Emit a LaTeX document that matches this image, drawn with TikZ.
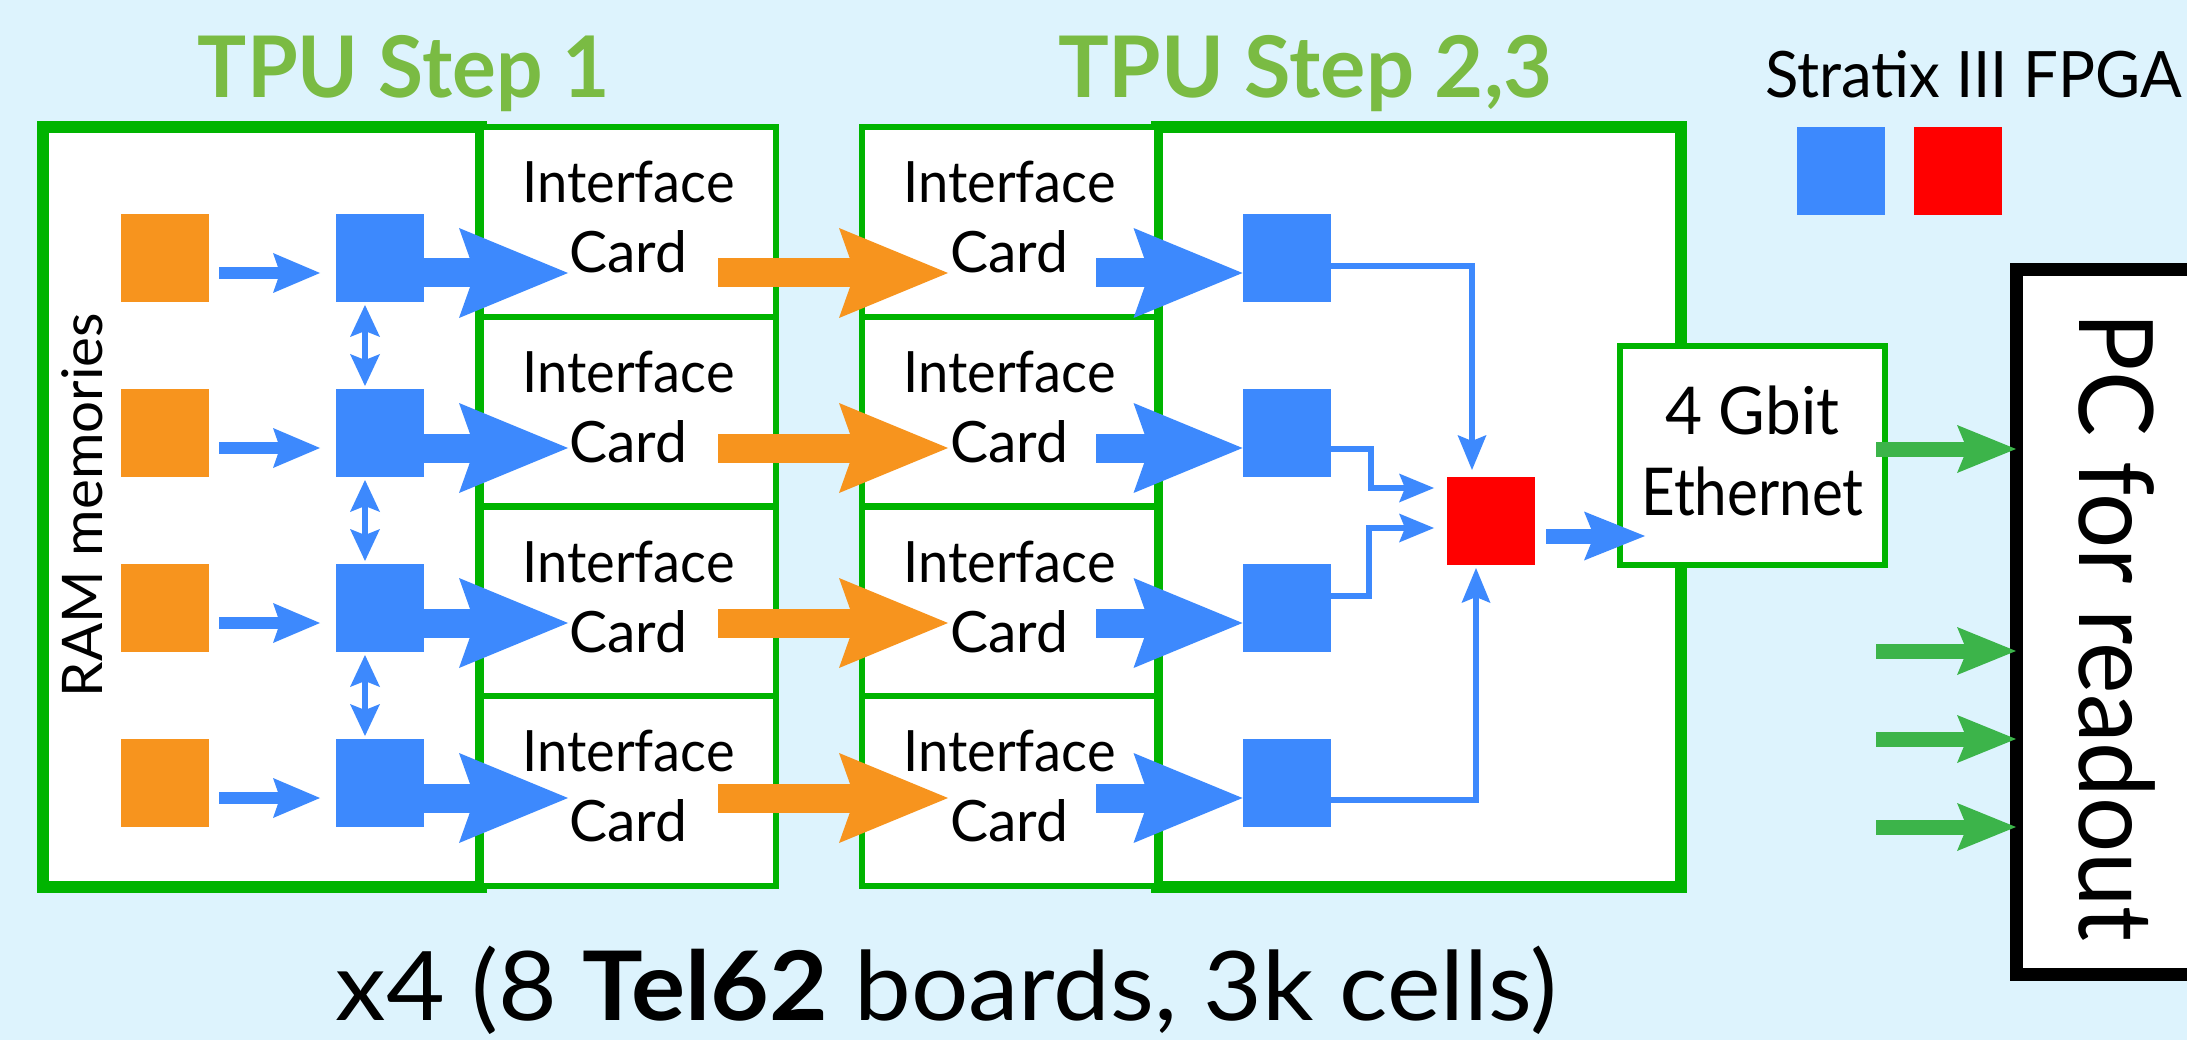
\documentclass[tikz,border=0pt]{standalone}
\usepackage{fontspec}
\setmainfont{Lato}
\usepackage{graphicx}
\usetikzlibrary{arrows.meta,calc}
\definecolor{bg}{RGB}{221,243,253}
\definecolor{fblue}{RGB}{61,137,253}
\definecolor{fred}{RGB}{255,0,0}
\definecolor{ramor}{RGB}{247,148,30}
\definecolor{bgreen}{RGB}{0,180,0}
\definecolor{tgreen}{RGB}{122,187,67}
\definecolor{agreen}{RGB}{60,180,74}
\newcommand\fitw[2]{\resizebox{#1}{\height}{#2}}
\tikzset{
  tipSmall/.tip={Stealth[length=47pt,width=40pt,inset=7pt,line width=0pt]},
  tipBig/.tip={Stealth[length=109pt,width=90pt,inset=16pt,line width=0pt]},
  tipMed/.tip={Stealth[length=61pt,width=49pt,inset=10pt,line width=0pt]},
  tipThin/.tip={Stealth[length=35pt,width=29pt,inset=6pt,line width=0pt]},
  tipDbl/.tip={Stealth[length=32pt,width=30pt,inset=6pt,line width=0pt]},
  tipGreen/.tip={Stealth[length=59pt,width=48pt,inset=10pt,line width=0pt]},
}
\begin{document}
\begin{tikzpicture}[x=1pt,y=-1pt,
  sq/.style={minimum width=88pt,minimum height=88pt,inner sep=0pt,outer sep=0pt},
  orangesq/.style={sq,fill=ramor},
  bluesq/.style={sq,fill=fblue},
  redsq/.style={sq,fill=fred},
  bigbox/.style={draw=bgreen,line width=12pt,fill=white,inner sep=0pt,outer sep=0pt},
  card/.style={draw=bgreen,line width=6pt,fill=white,minimum width=295pt,minimum height=189.75pt,inner sep=0pt,outer sep=0pt,align=center,font=\fontsize{57}{70}\selectfont},
  ethbox/.style={draw=bgreen,line width=6pt,fill=white,minimum width=265pt,minimum height=219pt,inner sep=0pt,outer sep=0pt,align=center,font=\fontsize{66}{81}\selectfont},
  pcbox/.style={draw=black,line width=13pt,fill=white,minimum width=179pt,minimum height=704pt,inner sep=0pt,outer sep=0pt},
  txt/.style={inner sep=0pt,outer sep=0pt,anchor=base},
  title/.style={txt,text=tgreen,font=\fontsize{85}{85}\selectfont\bfseries},
  smallarr/.style={draw=fblue,line width=12pt,-tipSmall},
  bigarr/.style={draw=fblue,line width=29pt,-tipBig},
  orarr/.style={draw=ramor,line width=29pt,-tipBig},
  medarr/.style={draw=fblue,line width=15pt,-tipMed},
  thinarr/.style={draw=fblue,line width=6.5pt,-tipThin},
  dblarr/.style={draw=fblue,line width=6pt,tipDbl-tipDbl},
  greenarr/.style={draw=agreen,line width=15pt,-tipGreen},
]
\useasboundingbox (0,0) rectangle (2187,1040);
\fill[bg] (0,0) rectangle (2187,1040);

% titles and legend
\node[title] (t1) at (404,98) {\fitw{412pt}{TPU Step 1}};
\node[title] (t2) at (1305.5,98) {\fitw{495pt}{TPU Step 2,3}};
\node[txt,font=\fontsize{64}{64}\selectfont] (leg) at (1973.5,98) {\fitw{417pt}{Stratix III FPGA}};
\node[bluesq] (lb) at (1841,171) {};
\node[redsq] (lr) at (1958,171) {};

% big boxes
\node[bigbox,minimum width=438pt,minimum height=760pt] (tpu1) at (262,507) {};
\node[bigbox,minimum width=524pt,minimum height=760pt] (tpu23) at (1419,507) {};

% interface cards
\foreach \k/\y in {1/221.9,2/411.6,3/601.4,4/791.1} {
  \node[card] (ia\k) at (628.5,\y) {\fitw{212pt}{Interface}\\\fitw{118pt}{Card}\rule[-10pt]{0pt}{10pt}};
  \node[card] (ib\k) at (1009.5,\y) {\fitw{212pt}{Interface}\\\fitw{118pt}{Card}\rule[-10pt]{0pt}{10pt}};
}

% ethernet and PC
\node[ethbox] (eth) at (1752.5,455.5) {\fitw{174pt}{4 Gbit}\\\fitw{222pt}{Ethernet}\rule[-9pt]{0pt}{9pt}};
\node[pcbox] (pc) at (2105.5,622) {};
\node[txt,rotate=-90,font=\fontsize{103}{103}\selectfont] (pct) at (2079,627) {\fitw{629pt}{PC for readout}};

% RAM label
\node[txt,rotate=90,font=\fontsize{56}{56}\selectfont] (ramt) at (102,505) {\fitw{384pt}{RAM memories}};

% squares
\foreach \k/\y in {1/258,2/433,3/608,4/783} {
  \node[orangesq] (o\k) at (165,\y) {};
  \node[bluesq] (b\k) at (380,\y) {};
  \node[bluesq] (c\k) at (1286.5,\y) {};
}
\node[redsq] (r) at (1491,521) {};

% row arrows
\foreach \k in {1,2,3,4} {
  \draw[smallarr] ($(o\k.east)+(10,15)$) -- ($(b\k.west)+(-16,15)$);
  \draw[bigarr] ($(b\k.east)+(0,15)$) -- ($(ia\k.west |- b\k.east)+(87,15)$);
  \draw[orarr] ($(ia\k.east |- b\k.east)+(-58,15)$) -- ($(ib\k.west |- b\k.east)+(86,15)$);
  \draw[bigarr] ($(ib\k.east |- c\k.west)+(-61,15)$) -- ($(c\k.west)+(0,15)$);
}

% vertical double arrows
\foreach \k/\n in {1/2,2/3,3/4} {
  \draw[dblarr] ($(b\k.south)+(-15,3)$) -- ($(b\n.north)+(-15,-3)$);
}

% connectors to the red FPGA
\draw[thinarr] ($(c1.east)+(0,8)$) -| ($(r.north)+(-19,-7)$);
\draw[thinarr] ($(c2.east)+(0,16)$) -| ($(r.west)+(-76,-33)$) -- ($(r.west)+(-13,-33)$);
\draw[thinarr] ($(c3.east)+(0,-12)$) -| ($(r.west)+(-78,7)$) -- ($(r.west)+(-13,7)$);
\draw[thinarr] ($(c4.east)+(0,17)$) -| ($(r.south)+(-15,3)$);

% red to ethernet
\draw[medarr] ($(r.east)+(11,15)$) -- ($(eth.west |- r.east)+(25,15)$);

% green arrows to PC
\coordinate (g2) at (1876,651);
\coordinate (g3) at (1876,739);
\coordinate (g4) at (1876,827);
\draw[greenarr] ($(eth.east)+(-9,-6.5)$) -- ($(pc.west |- eth.east)+(0,-6.5)$);
\draw[greenarr] (g2) -- (pc.west |- g2);
\draw[greenarr] (g3) -- (pc.west |- g3);
\draw[greenarr] (g4) -- (pc.west |- g4);

% caption
\node[txt,font=\fontsize{96}{96}\selectfont] (cap) at (946.5,1020) {\fitw{1221pt}{x4 (8 \textbf{Tel62} boards, 3k cells)}};
\end{tikzpicture}
\end{document}
